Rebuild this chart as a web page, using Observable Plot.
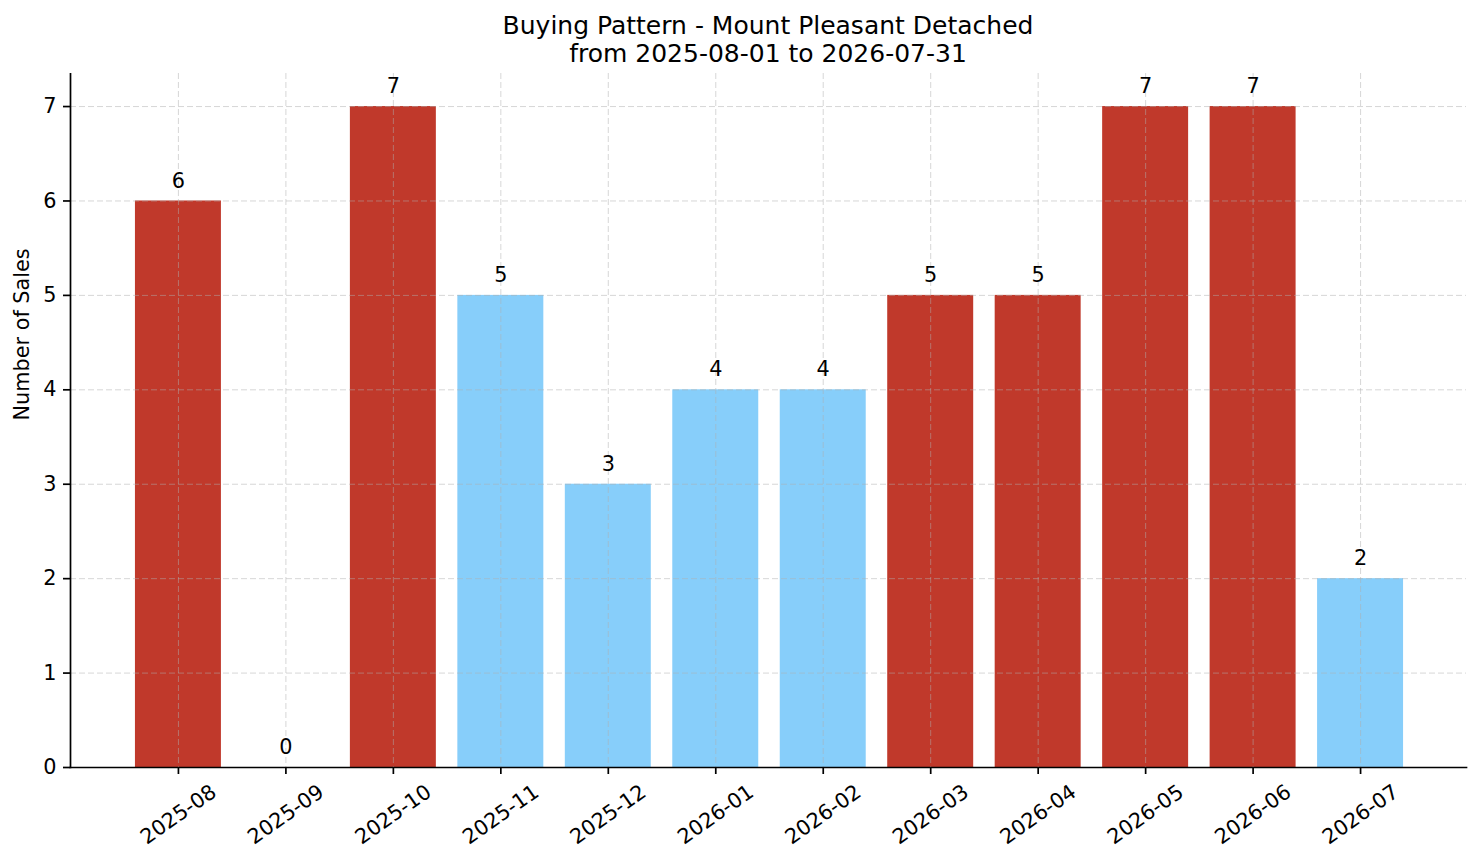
<!DOCTYPE html>
<html>
<head>
<meta charset="utf-8">
<script src="https://cdn.jsdelivr.net/npm/d3@7"></script>
<script src="https://cdn.jsdelivr.net/npm/@observablehq/plot@0.6"></script>
<style>
  html, body { margin: 0; padding: 0; background: #fff; }
  #title { width: 1396px; margin-left: 70px; height: 73px; box-sizing: border-box; padding-top: 12px;
           text-align: center; font-family: "DejaVu Sans", sans-serif; font-size: 25px; line-height: 28px; color: #000; }
</style>
</head>
<body>
<div id="title">Buying Pattern - Mount Pleasant Detached<br>from 2025-08-01 to 2026-07-31</div>
<div id="chart"></div>
<script>
const months = ["2025-08","2025-09","2025-10","2025-11","2025-12","2026-01","2026-02","2026-03","2026-04","2026-05","2026-06","2026-07"];
const sales = [6, 0, 7, 5, 3, 4, 4, 5, 5, 7, 7, 2];
const groups = ["hot","hot","hot","cool","cool","cool","cool","hot","hot","hot","hot","cool"];
const yTicks = [0, 1, 2, 3, 4, 5, 6, 7];
const yLabel = "Number of Sales";

const data = months.map((m, i) => ({month: m, sales: sales[i], group: groups[i]}));

const chart = Plot.plot({
  width: 1481,
  height: 790,
  marginTop: 0,
  marginLeft: 70,
  marginRight: 15,
  marginBottom: 96,
  style: {fontFamily: "DejaVu Sans", fontSize: "20.8px", background: "#fff", color: "#000"},
  x: {domain: months, type: "band", range: [71, 1467], paddingInner: 0.2, paddingOuter: 0.595, round: false, label: null},
  y: {domain: [0, 7.35], label: null},
  color: {type: "ordinal", domain: ["hot", "cool"], range: ["#c0392b", "#87cefa"]},
  marks: [
    Plot.barY(data, {x: "month", y: "sales", fill: "group"}),
    Plot.gridX(months, {stroke: "#b0b0b0", strokeOpacity: 0.5, strokeDasharray: "6,3", strokeWidth: 1}),
    Plot.gridY(yTicks, {stroke: "#b0b0b0", strokeOpacity: 0.5, strokeDasharray: "6,3", strokeWidth: 1}),
    Plot.text(data, {x: "month", y: "sales", text: d => String(d.sales), dy: -20, fill: "#000"}),
    Plot.axisY({ticks: yTicks, tickSize: 7, tickPadding: 7, strokeWidth: 1.7, label: null, fill: "#000"}),
    Plot.axisX({tickSize: 7, tickPadding: 40, tickRotate: -35, textAnchor: "middle", lineAnchor: "middle", strokeWidth: 1.7, label: null, fill: "#000"}),
    Plot.frame({anchor: "left", stroke: "#000", strokeWidth: 1.7}),
    Plot.frame({anchor: "bottom", stroke: "#000", strokeWidth: 1.7}),
    Plot.text([yLabel], {frameAnchor: "left", dx: -48, rotate: -90, fill: "#000"})
  ]
});
document.getElementById("chart").appendChild(chart);
</script>
</body>
</html>
